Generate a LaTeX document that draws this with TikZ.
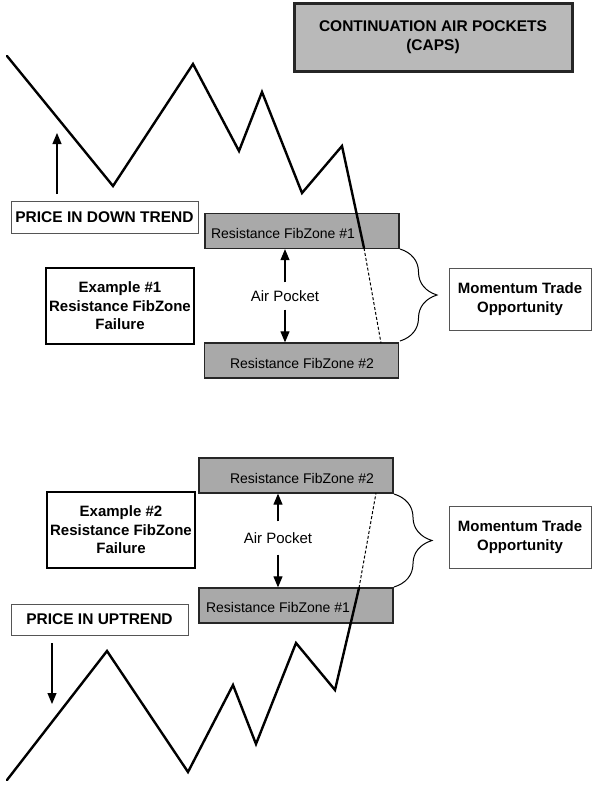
\documentclass[tikz,border=0pt]{standalone}
\usepackage{fontspec}
\setmainfont{Liberation Sans}
\usetikzlibrary{arrows.meta,decorations.pathreplacing,calc}
\definecolor{zonegray}{HTML}{A9A9A9}
\definecolor{titlegray}{HTML}{B9B9B9}
\definecolor{thinedge}{HTML}{555555}
\begin{document}
\begin{tikzpicture}[x=1pt,y=-1pt,
  zone/.style={draw=black!85, line width=1.3pt, fill=zonegray, minimum width=194pt, minimum height=35pt, inner sep=0pt},
  zonetext/.style={font=\fontsize{14}{16}\selectfont, inner sep=1pt},
  titlebox/.style={draw=black!85, line width=3pt, fill=titlegray, minimum width=278pt, minimum height=68pt, align=center, font=\bfseries\fontsize{15.5}{19}\selectfont},
  pricebox/.style={draw=thinedge, line width=0.8pt, fill=white, inner sep=0pt, font=\bfseries\fontsize{15.5}{18}\selectfont},
  examplebox/.style={draw=black, line width=1.8pt, minimum width=148pt, minimum height=76pt, align=center, inner sep=0pt, font=\bfseries\fontsize{15}{18.5}\selectfont},
  mombox/.style={draw=thinedge, line width=0.8pt, minimum width=142pt, minimum height=62pt, align=center, inner sep=0pt, font=\bfseries\fontsize{15}{19}\selectfont},
  aptext/.style={font=\fontsize{15}{18}\selectfont, inner xsep=0pt},
  price/.style={line width=2.4pt, line join=miter, line cap=round},
  pocket/.style={line width=1pt, dash pattern=on 3pt off 2pt},
  arr/.style={line width=1.1pt, -{Triangle[length=11pt,width=9pt]}},
  bracestyle/.style={line width=1pt, decorate, decoration={brace, amplitude=37pt}}
]
\useasboundingbox (0,0) rectangle (592,788);

% title
\node[titlebox] (title) at (433,37) {CONTINUATION AIR POCKETS\\(CAPS)};

% ---------- Example 1 (down trend) ----------
\node[zone] (z1) at (302,231) {};
\node[zonetext] (z1t) at (283,233) {Resistance FibZone \#1};
\node[zone] (z2) at (301.5,360.5) {};
\node[zonetext] (z2t) at (302,363) {Resistance FibZone \#2};

\node[pricebox, minimum width=187pt, minimum height=32pt] (pdt) at (104.5,217) {PRICE IN DOWN TREND};
\node[examplebox] (ex1) at (120,306) {Example \#1\\Resistance FibZone\\Failure};
\node[mombox] (mom1) at (520,299) {Momentum Trade\\Opportunity};
\node[aptext, minimum height=27pt] (ap1) at (285,296) {Air Pocket};

\draw[arr] (ap1.north) -- (ap1.north |- z1.south);
\draw[arr] (ap1.south) -- (ap1.south |- z2.north);

\coordinate (b1a) at (400,249);
\coordinate (b1b) at (400,341);
\draw[bracestyle] (b1a) -- (b1b);

\coordinate (d0) at (7,56);
\coordinate (d1) at (113,186);
\coordinate (d2) at (193,64);
\coordinate (d3) at (239,151);
\coordinate (d4) at (262,92);
\coordinate (d5) at (302,193);
\coordinate (d6) at (342,146);
\coordinate (d7) at (364,248);
\coordinate (d8) at (381,343);
\draw[price] (d0) -- (d1) -- (d2) -- (d3) -- (d4) -- (d5) -- (d6) -- (d7);
\draw[pocket] (d7) -- (d8);

\coordinate (ua) at (57,194);
\coordinate (ub) at (57,133);
\draw[arr] (ua) -- (ub);

% ---------- Example 2 (uptrend) ----------
\node[zone] (y2) at (296,475.5) {};
\node[zonetext] (y2t) at (302,478) {Resistance FibZone \#2};
\node[zone] (y1) at (296,605.5) {};
\node[zonetext] (y1t) at (278,607) {Resistance FibZone \#1};

\node[examplebox] (ex2) at (121,530) {Example \#2\\Resistance FibZone\\Failure};
\node[mombox] (mom2) at (520,537) {Momentum Trade\\Opportunity};
\node[aptext, minimum height=33pt] (ap2) at (278,538) {Air Pocket};
\node[pricebox, minimum width=177pt, minimum height=31pt] (put) at (99.5,619.5) {PRICE IN UPTREND};

\draw[arr] (ap2.north) -- (ap2.north |- y2.south);
\draw[arr] (ap2.south) -- (ap2.south |- y1.north);

\coordinate (b2a) at (394,494);
\coordinate (b2b) at (394,587);
\draw[bracestyle, decoration={amplitude=38pt}] (b2a) -- (b2b);

\coordinate (u0) at (7,780);
\coordinate (u1) at (107,651);
\coordinate (u2) at (188,772);
\coordinate (u3) at (233,685);
\coordinate (u4) at (256,744);
\coordinate (u5) at (296,643);
\coordinate (u6) at (335,690);
\coordinate (u7) at (359,588);
\coordinate (u8) at (376,493);
\draw[price] (u0) -- (u1) -- (u2) -- (u3) -- (u4) -- (u5) -- (u6) -- (u7);
\draw[pocket] (u7) -- (u8);

\coordinate (da) at (52,643);
\coordinate (db) at (52,704);
\draw[arr] (da) -- (db);
\end{tikzpicture}
\end{document}
